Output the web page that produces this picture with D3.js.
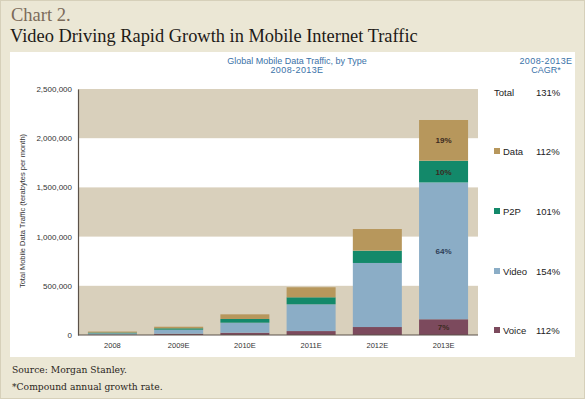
<!DOCTYPE html>
<html>
<head>
<meta charset="utf-8">
<script src="https://cdn.jsdelivr.net/npm/d3@7"></script>
<style>
  body { margin: 0; background: #ebe7d5; }
  svg text { font-family: "Liberation Sans", Arial, sans-serif; }
  .serif { font-family: "Liberation Serif", "Times New Roman", serif !important; }
  .serif2 { font-family: "DejaVu Serif", Georgia, serif !important; }
</style>
</head>
<body>
<svg id="chart" width="585" height="399"></svg>
<script>
// data (terabytes per month)
var years = ["2008", "2009E", "2010E", "2011E", "2012E", "2013E"];
var voice = [4000, 13000, 23000, 40000, 81000, 160000];
var video = [13000, 41000, 102000, 272000, 651000, 1390000];
var p2p = [8000, 14000, 38000, 71000, 125000, 221000];
var dataT = [10000, 16000, 47000, 102000, 220000, 414000];

var seriesNames = ["Voice", "Video", "P2P", "Data"];
var seriesColors = ["#7c4a5d", "#8badc6", "#13896a", "#b7975c"];
var cagr = ["112%", "154%", "101%", "112%"];
var totalCagr = "131%";
var shareLabels = ["7%", "64%", "10%", "19%"]; // 2013E only
var yTicks = [0, 500000, 1000000, 1500000, 2000000, 2500000];

var svg = d3.select("#chart");

// outer frame
svg.append("rect").attr("x", 0.5).attr("y", 0.5).attr("width", 584).attr("height", 398)
  .attr("fill", "#ebe7d5").attr("stroke", "#d6d0ba");

// titles
svg.append("text").attr("class", "serif").attr("x", 11).attr("y", 21)
  .style("font-size", "18.5px").attr("fill", "#7b6b5a").text("Chart 2.");
svg.append("text").attr("class", "serif").attr("x", 10).attr("y", 42)
  .style("font-size", "18.4px").attr("fill", "#1d1a17")
  .text("Video Driving Rapid Growth in Mobile Internet Traffic");

// white panel
svg.append("rect").attr("x", 10).attr("y", 52).attr("width", 565).attr("height", 305).attr("fill", "#fff");

var x = d3.scaleBand().domain(years).range([78, 478]).paddingInner(0.26).paddingOuter(0.15);
var y = d3.scaleLinear().domain([0, 2500000]).range([335, 89]);

// alternating bands
var bands = [[0, 500000], [1000000, 1500000], [2000000, 2500000]];
svg.selectAll(".band").data(bands).enter().append("rect")
  .attr("x", 78).attr("width", 400)
  .attr("y", function(d) { return y(d[1]); })
  .attr("height", function(d) { return y(d[0]) - y(d[1]); })
  .attr("fill", "#d9d0bc");

// stack the series
var rows = years.map(function(yr, i) {
  return { year: yr, Voice: voice[i], Video: video[i], P2P: p2p[i], Data: dataT[i] };
});
var stacked = d3.stack().keys(seriesNames)(rows);

var layer = svg.selectAll(".layer").data(stacked).enter().append("g")
  .attr("fill", function(d, i) { return seriesColors[i]; });
layer.selectAll("rect").data(function(d) { return d; }).enter().append("rect")
  .attr("x", function(d) { return x(d.data.year); })
  .attr("width", x.bandwidth())
  .attr("y", function(d) { return y(d[1]); })
  .attr("height", function(d) { return y(d[0]) - y(d[1]); });

// percentage labels on last bar
var last = years.length - 1;
stacked.forEach(function(s, i) {
  var d = s[last];
  svg.append("text")
    .attr("x", x(years[last]) + x.bandwidth() / 2)
    .attr("y", (y(d[0]) + y(d[1])) / 2 + 3)
    .attr("text-anchor", "middle")
    .style("font-size", "8px").style("font-weight", "bold")
    .attr("fill", i == 1 ? "#2d3d57" : "#3b2a1f")
    .text(shareLabels[i]);
});

// axes
var yAxis = d3.axisLeft(y).tickValues(yTicks).tickSize(0).tickPadding(6)
  .tickFormat(d3.format(","));
var gy = svg.append("g").attr("transform", "translate(78,0)").call(yAxis);
gy.select(".domain").attr("stroke", "#5b5148").attr("stroke-width", 1.2);
gy.selectAll("text").style("font-size", "8px").attr("fill", "#333").style("font-family", "Liberation Sans, sans-serif");

var gx = svg.append("g").attr("transform", "translate(0,335)").call(d3.axisBottom(x).tickSize(0).tickPadding(8));
gx.select(".domain").attr("d", "M78,0H478").attr("stroke", "#5b5148").attr("stroke-width", 1.2);
gx.selectAll("text").style("font-size", "7.5px").attr("fill", "#333").style("font-family", "Liberation Sans, sans-serif");

svg.append("text").attr("transform", "translate(25,211) rotate(-90)")
  .attr("text-anchor", "middle").style("font-size", "7.5px").attr("fill", "#333")
  .text("Total Mobile Data Traffic (terabytes per month)");

// chart header
svg.append("text").attr("x", 297).attr("y", 64).attr("text-anchor", "middle")
  .style("font-size", "9px").attr("fill", "#3a72a8").text("Global Mobile Data Traffic, by Type");
svg.append("text").attr("x", 297).attr("y", 73).attr("text-anchor", "middle")
  .style("font-size", "9px").style("letter-spacing", "0.4px").attr("fill", "#3a72a8").text("2008-2013E");
svg.append("text").attr("x", 546).attr("y", 64).attr("text-anchor", "middle")
  .style("font-size", "9px").style("letter-spacing", "0.4px").attr("fill", "#3a72a8").text("2008-2013E");
svg.append("text").attr("x", 546).attr("y", 73).attr("text-anchor", "middle")
  .style("font-size", "9px").attr("fill", "#3a72a8").text("CAGR*");

// legend
var legY = [334, 275, 215, 155];
svg.append("text").attr("x", 494).attr("y", 96).style("font-size", "9.5px").attr("fill", "#222").text("Total");
svg.append("text").attr("x", 536).attr("y", 96).style("font-size", "9.5px").attr("fill", "#222").text(totalCagr);
var leg = svg.selectAll(".leg").data(seriesNames).enter().append("g")
  .attr("transform", function(d, i) { return "translate(494," + legY[i] + ")"; });
leg.append("rect").attr("x", 0).attr("y", -7).attr("width", 6).attr("height", 6)
  .attr("fill", function(d, i) { return seriesColors[i]; });
leg.append("text").attr("x", 9).attr("y", 0).style("font-size", "9.5px").attr("fill", "#222")
  .text(function(d) { return d; });
leg.append("text").attr("x", 42).attr("y", 0).style("font-size", "9.5px").attr("fill", "#222")
  .text(function(d, i) { return cagr[i]; });

// footnotes
svg.append("text").attr("class", "serif2").attr("x", 12).attr("y", 373)
  .style("font-size", "9.2px").attr("fill", "#2a2520").text("Source: Morgan Stanley.");
svg.append("text").attr("class", "serif2").attr("x", 12).attr("y", 390)
  .style("font-size", "9.2px").attr("fill", "#2a2520").text("*Compound annual growth rate.");
</script>
</body>
</html>
